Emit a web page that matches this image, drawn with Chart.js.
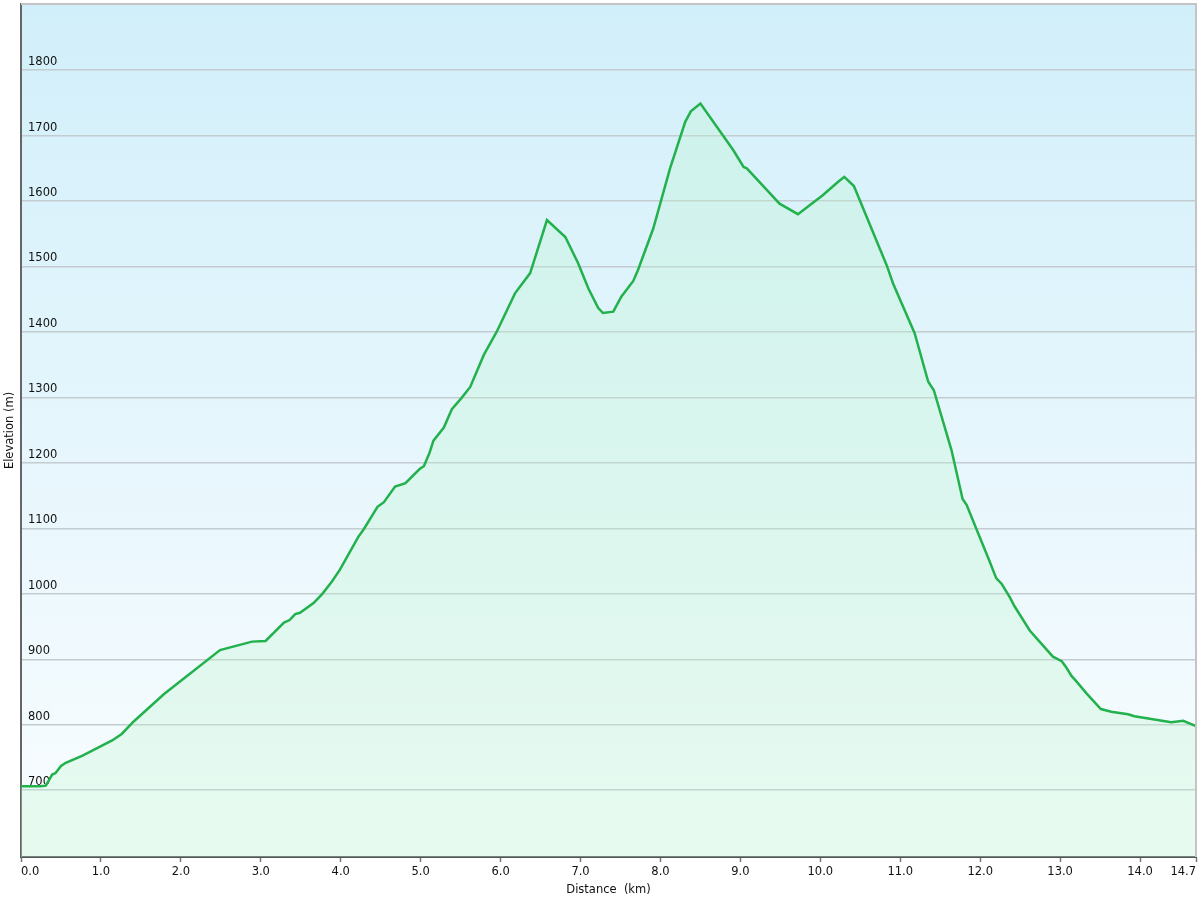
<!DOCTYPE html>
<html lang="en">
<head>
    <meta charset="UTF-8">
    <title>Elevation profile</title>
    <style>
        body {
            margin: 0;
            background: #ffffff;
        }
        #wrap {
            width: 1200px;
            height: 900px;
        }
    </style>
</head>
<body>
    <div id="wrap">
        <canvas id="profile" width="1200" height="900"></canvas>
    </div>
    <script src="https://cdn.jsdelivr.net/npm/chart.js@4.4.1/dist/chart.umd.min.js"></script>
    <script>
        // distance along the track (km) and elevation (m)
        const distanceKm = [
            0.00, 0.24, 0.31, 0.39, 0.43, 0.50, 0.56, 0.77, 1.14, 1.26,
            1.41, 1.79, 2.49, 2.89, 3.06, 3.29, 3.36, 3.43, 3.49, 3.66,
            3.77, 3.89, 3.99, 4.22, 4.29, 4.46, 4.54, 4.68, 4.81, 4.99,
            5.04, 5.11, 5.16, 5.29, 5.39, 5.51, 5.62, 5.79, 5.95, 6.18,
            6.37, 6.58, 6.81, 6.97, 7.10, 7.22, 7.28, 7.41, 7.51, 7.66,
            7.72, 7.91, 8.12, 8.31, 8.38, 8.50, 8.91, 9.04, 9.08, 9.33,
            9.49, 9.72, 10.03, 10.22, 10.30, 10.42, 10.83, 10.91, 11.18, 11.35,
            11.42, 11.64, 11.78, 11.83, 12.00, 12.11, 12.20, 12.27, 12.37, 12.43,
            12.62, 12.91, 13.02, 13.08, 13.14, 13.22, 13.33, 13.51, 13.64, 13.85,
            13.93, 14.39, 14.54, 14.70
        ];
        const elevationM = [
            706, 706, 707, 724, 726, 737, 742, 753, 776, 786,
            805, 847, 914, 927, 928, 956, 960, 969, 971, 986,
            1000, 1019, 1037, 1087, 1099, 1133, 1140, 1164, 1169, 1191,
            1195, 1215, 1234, 1254, 1282, 1299, 1316, 1365, 1400, 1459,
            1490, 1571, 1545, 1505, 1466, 1437, 1429, 1431, 1454, 1478,
            1495, 1558, 1650, 1721, 1737, 1749, 1678, 1652, 1650, 1617,
            1596, 1580, 1609, 1629, 1637, 1623, 1502, 1474, 1398, 1324,
            1311, 1220, 1145, 1136, 1085, 1052, 1024, 1015, 995, 981,
            944, 904, 897, 887, 875, 864, 848, 824, 820, 816,
            813, 804, 806, 798
        ];
        const xTicks = [0, 1, 2, 3, 4, 5, 6, 7, 8, 9, 10, 11, 12, 13, 14, 14.7];
        const yTicks = [700, 800, 900, 1000, 1100, 1200, 1300, 1400, 1500, 1600, 1700, 1800];

        const labelFont = { family: 'DejaVu Sans', size: 11.5 };

        // sky coloured plot background plus thin frame on top/right
        const plotBackground = {
            id: 'plotBackground',
            beforeDraw(chart) {
                const { ctx, chartArea: a } = chart;
                const g = ctx.createLinearGradient(0, a.top, 0, a.bottom);
                g.addColorStop(0, '#d1effa');
                g.addColorStop(1, '#fafdff');
                ctx.save();
                ctx.fillStyle = g;
                ctx.fillRect(a.left, a.top, a.right - a.left, a.bottom - a.top);
                ctx.restore();
            },
            afterDraw(chart) {
                const { ctx, chartArea: a } = chart;
                ctx.save();
                ctx.strokeStyle = '#c4c4c4';
                ctx.lineWidth = 2;
                ctx.beginPath();
                ctx.moveTo(a.left, a.top);
                ctx.lineTo(a.right, a.top);
                ctx.lineTo(a.right, a.bottom);
                ctx.stroke();
                ctx.restore();
            }
        };

        const points = distanceKm.map((d, i) => ({ x: d, y: elevationM[i] }));

        new Chart(document.getElementById('profile'), {
            type: 'line',
            data: {
                datasets: [{
                    label: 'Elevation',
                    data: points,
                    borderColor: '#22b14c',
                    borderWidth: 2.5,
                    backgroundColor: 'rgba(190, 245, 205, 0.3)',
                    fill: 'start',
                    pointRadius: 0,
                    tension: 0
                }]
            },
            options: {
                responsive: false,
                animation: false,
                layout: { padding: { top: 4, right: 4, left: 0, bottom: 0 } },
                plugins: {
                    legend: { display: false },
                    tooltip: { enabled: false }
                },
                scales: {
                    x: {
                        type: 'linear',
                        min: 0,
                        max: 14.7,
                        afterBuildTicks: s => { s.ticks = xTicks.map(v => ({ value: v })); },
                        afterFit: s => { s.height = 43; s.paddingLeft = 0; s.paddingRight = 0; },
                        grid: {
                            drawOnChartArea: false,
                            drawTicks: true,
                            tickLength: 5,
                            tickWidth: 1.5,
                            tickColor: '#777'
                        },
                        border: { display: true, color: '#555', width: 2 },
                        ticks: {
                            autoSkip: false,
                            maxRotation: 0,
                            align: 'inner',
                            padding: 3,
                            color: '#111',
                            font: labelFont,
                            callback: v => v.toFixed(1)
                        },
                        title: {
                            display: true,
                            text: 'Distance  (km)',
                            color: '#111',
                            font: labelFont,
                            padding: { top: 0, bottom: 3.4 }
                        }
                    },
                    y: {
                        min: 598,
                        max: 1901,
                        afterBuildTicks: s => { s.ticks = yTicks.map(v => ({ value: v })); },
                        afterFit: s => { s.width = 21; s.paddingTop = 0; s.paddingBottom = 0; },
                        grid: {
                            drawTicks: false,
                            color: '#c3ccd0',
                            lineWidth: 1.5
                        },
                        border: { display: true, color: '#666', width: 2 },
                        ticks: {
                            mirror: true,
                            padding: 7,
                            labelOffset: -8,
                            color: '#111',
                            font: labelFont,
                            callback: v => String(v)
                        },
                        title: {
                            display: true,
                            text: 'Elevation (m)',
                            color: '#111',
                            font: labelFont,
                            padding: { top: 3, bottom: 0 }
                        }
                    }
                }
            },
            plugins: [plotBackground]
        });
    </script>
</body>
</html>
